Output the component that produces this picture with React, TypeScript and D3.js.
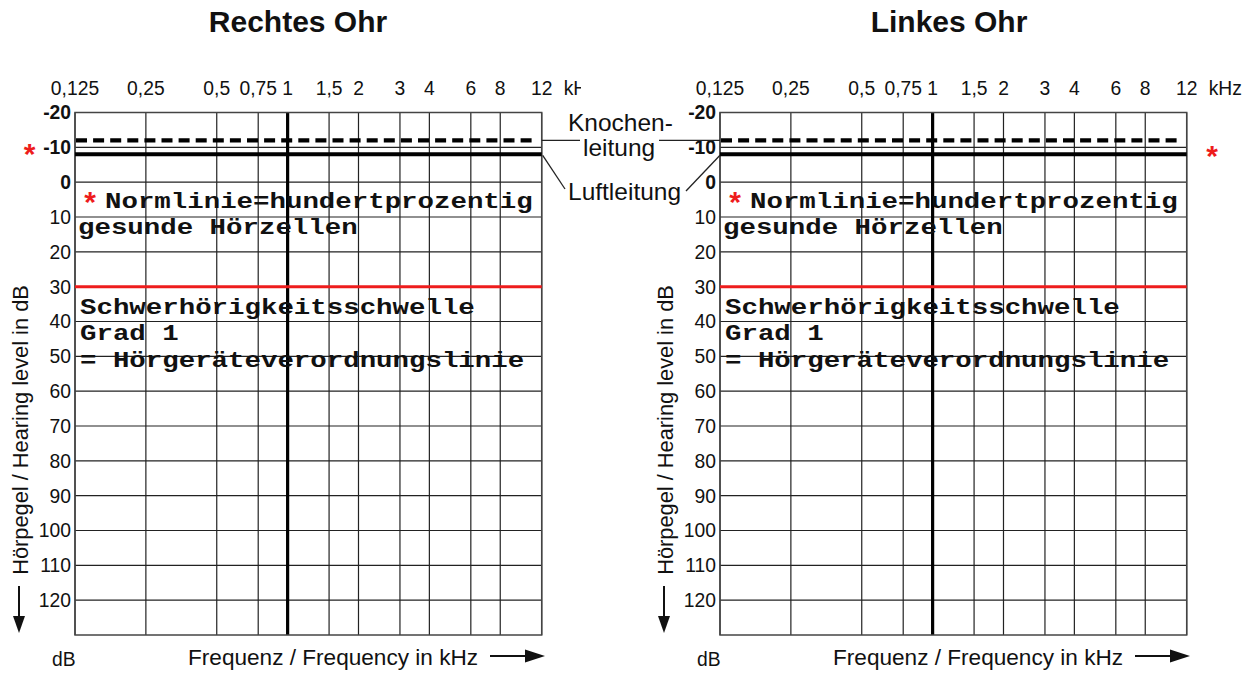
import React from "react";
import * as d3 from "d3";

// Audiogram form: two blank grids (right / left ear) with reference lines.
const earTitles = ["Rechtes Ohr", "Linkes Ohr"];
const freqTicks = [0.125, 0.25, 0.5, 0.75, 1, 1.5, 2, 3, 4, 6, 8, 12];
const freqTickLabels = ["0,125", "0,25", "0,5", "0,75", "1", "1,5", "2", "3", "4", "6", "8", "12"];
const freqDomain = [0.125, 12];
const dbTicks = [-20, -10, 0, 10, 20, 30, 40, 50, 60, 70, 80, 90, 100, 110, 120];
const dbDomain = [-20, 130];
const boldDbTicks = [-20, -10, 0];
const boneConductionDb = -12; // Knochenleitung (dashed)
const airConductionDb = -8; // Luftleitung (solid)
const thresholdDb = 30; // Schwerhörigkeitsschwelle Grad 1
const normLines = ["Normlinie=hundertprozentig", "gesunde Hörzellen"];
const thresholdLines = ["Schwerhörigkeitsschwelle", "Grad 1", "= Hörgeräteverordnungslinie"];

const SANS = "'Liberation Sans', Arial, Helvetica, sans-serif";
const MONO = "'Courier New', 'Liberation Mono', monospace";
const INK = "#111";
const RED = "#ee1c1c";

const PLOT_W = 466.7;
const TOP = 112.5;
const BOTTOM = 635;
const MONO_PITCH = 16.45;

function MonoText({ x, y, text }: { x: number; y: number; text: string }) {
  return (
    <text
      x={x}
      y={y}
      fontFamily={MONO}
      fontWeight={700}
      fontSize={21.5}
      fill={INK}
      textLength={text.length * MONO_PITCH}
      lengthAdjust="spacingAndGlyphs"
    >
      {text}
    </text>
  );
}

function Panel({ left, title, titleX, idx }: { left: number; title: string; titleX: number; idx: number }) {
  const x = d3.scaleLog().domain(freqDomain).range([left, left + PLOT_W]);
  const y = d3.scaleLinear().domain(dbDomain).range([TOP, BOTTOM]);
  const right = left + PLOT_W;
  const clipId = `kclip${idx}`;
  const clipLeft = left - 40;
  return (
    <g>
      <text x={titleX} y={32} textAnchor="middle" fontFamily={SANS} fontWeight={700} fontSize={30} fill={INK}>
        {title}
      </text>

      {/* frequency tick labels */}
      <defs>
        <clipPath id={clipId}>
          <rect x={clipLeft} y={70} width={idx === 0 ? 581 - clipLeft : 600} height={40} />
        </clipPath>
      </defs>
      <g clipPath={`url(#${clipId})`} fontFamily={SANS} fontSize={19.3} fill={INK}>
        {freqTicks.map((f, i) => (
          <text key={f} x={x(f)} y={95} textAnchor="middle">
            {freqTickLabels[i]}
          </text>
        ))}
        <text x={right + 22} y={95}>kHz</text>
      </g>

      {/* horizontal grid */}
      {dbTicks.map((d) => (
        <line key={d} x1={left} x2={right} y1={y(d)} y2={y(d)} stroke="#222" strokeWidth={1.1} />
      ))}
      {/* vertical grid */}
      {freqTicks.map((f) => (
        <line
          key={f}
          x1={x(f)}
          x2={x(f)}
          y1={TOP}
          y2={BOTTOM}
          stroke={f === 1 ? "#000" : "#222"}
          strokeWidth={f === 1 ? 3.2 : 1.2}
        />
      ))}
      <rect x={left} y={TOP} width={PLOT_W} height={BOTTOM - TOP} fill="none" stroke="#444" strokeWidth={1.5} />

      {/* dB tick labels */}
      <g fontFamily={SANS} fontSize={19.3} fill={INK} textAnchor="end">
        {dbTicks.map((d) => (
          <text key={d} x={left - 4} y={y(d)} dy="0.36em" fontWeight={boldDbTicks.includes(d) ? 700 : 400}>
            {d}
          </text>
        ))}
      </g>

      {/* reference lines */}
      <line x1={left + 1} x2={right - 9} y1={y(boneConductionDb)} y2={y(boneConductionDb)} stroke="#000" strokeWidth={4.3} strokeDasharray="11 6.1" />
      <line x1={left} x2={right} y1={y(airConductionDb)} y2={y(airConductionDb)} stroke="#000" strokeWidth={4} />
      <line x1={left} x2={right} y1={y(thresholdDb)} y2={y(thresholdDb)} stroke={RED} strokeWidth={3} />

      {/* annotations */}
      <text x={left + 15} y={212} textAnchor="middle" fontFamily={SANS} fontWeight={700} fontSize={30} fill={RED}>*</text>
      <MonoText x={left + 30} y={208} text={normLines[0]} />
      <MonoText x={left + 3} y={234} text={normLines[1]} />
      {thresholdLines.map((t, i) => (
        <MonoText key={t} x={left + 5} y={314 + i * 26.3} text={t} />
      ))}

      {/* y axis title with arrow */}
      <text
        transform={`translate(${left - 47},430) rotate(-90)`}
        textAnchor="middle"
        fontFamily={SANS}
        fontSize={21.8}
        fill={INK}
      >
        Hörpegel / Hearing level in dB
      </text>
      <line x1={left - 56} x2={left - 56} y1={586} y2={618} stroke={INK} strokeWidth={2} />
      <path d={`M${left - 62},616 L${left - 50},616 L${left - 56},633 Z`} fill={INK} />

      {/* x axis title with arrow */}
      <text x={left - 23} y={666} fontFamily={SANS} fontSize={19.3} fill={INK}>dB</text>
      <text x={left + 113} y={665} fontFamily={SANS} fontSize={22.6} fill={INK}>Frequenz / Frequency in kHz</text>
      <line x1={left + 415} x2={left + 452} y1={656} y2={656} stroke={INK} strokeWidth={2} />
      <path d={`M${left + 450},649.5 L${left + 470},656 L${left + 450},662.5 Z`} fill={INK} />
    </g>
  );
}

export default function App() {
  const yAxis = d3.scaleLinear().domain(dbDomain).range([TOP, BOTTOM]);
  const lefts = [75, 720];
  const titleXs = [298, 949];
  const boneY = yAxis(boneConductionDb);
  const airY = yAxis(airConductionDb);
  const rightEdge = lefts[0] + PLOT_W;
  return (
    <svg width={1254} height={673} style={{ position: "absolute", left: 0, top: 0, background: "#fff" }}>
      <rect width={1254} height={673} fill="#fff" />
      {earTitles.map((t, i) => (
        <Panel key={t} left={lefts[i]} title={t} titleX={titleXs[i]} idx={i} />
      ))}

      {/* legend between the panels */}
      <g fontFamily={SANS} fontSize={24.5} fill={INK}>
        <text x={568} y={131}>Knochen-</text>
        <text x={583} y={156}>leitung</text>
        <text x={568} y={200}>Luftleitung</text>
      </g>
      <g stroke="#222" strokeWidth={1.3} fill="none">
        <line x1={rightEdge} x2={580} y1={boneY} y2={boneY} />
        <line x1={659} x2={lefts[1]} y1={boneY} y2={boneY} />
        <line x1={rightEdge + 1} y1={airY + 1} x2={565} y2={189} />
        <line x1={686} y1={191} x2={lefts[1]} y2={airY + 1} />
      </g>

      {/* marks for the norm line */}
      <g fontFamily={SANS} fontWeight={700} fontSize={30} fill={RED} textAnchor="middle">
        <text x={29.5} y={164}>*</text>
        <text x={1212} y={166}>*</text>
      </g>
    </svg>
  );
}
